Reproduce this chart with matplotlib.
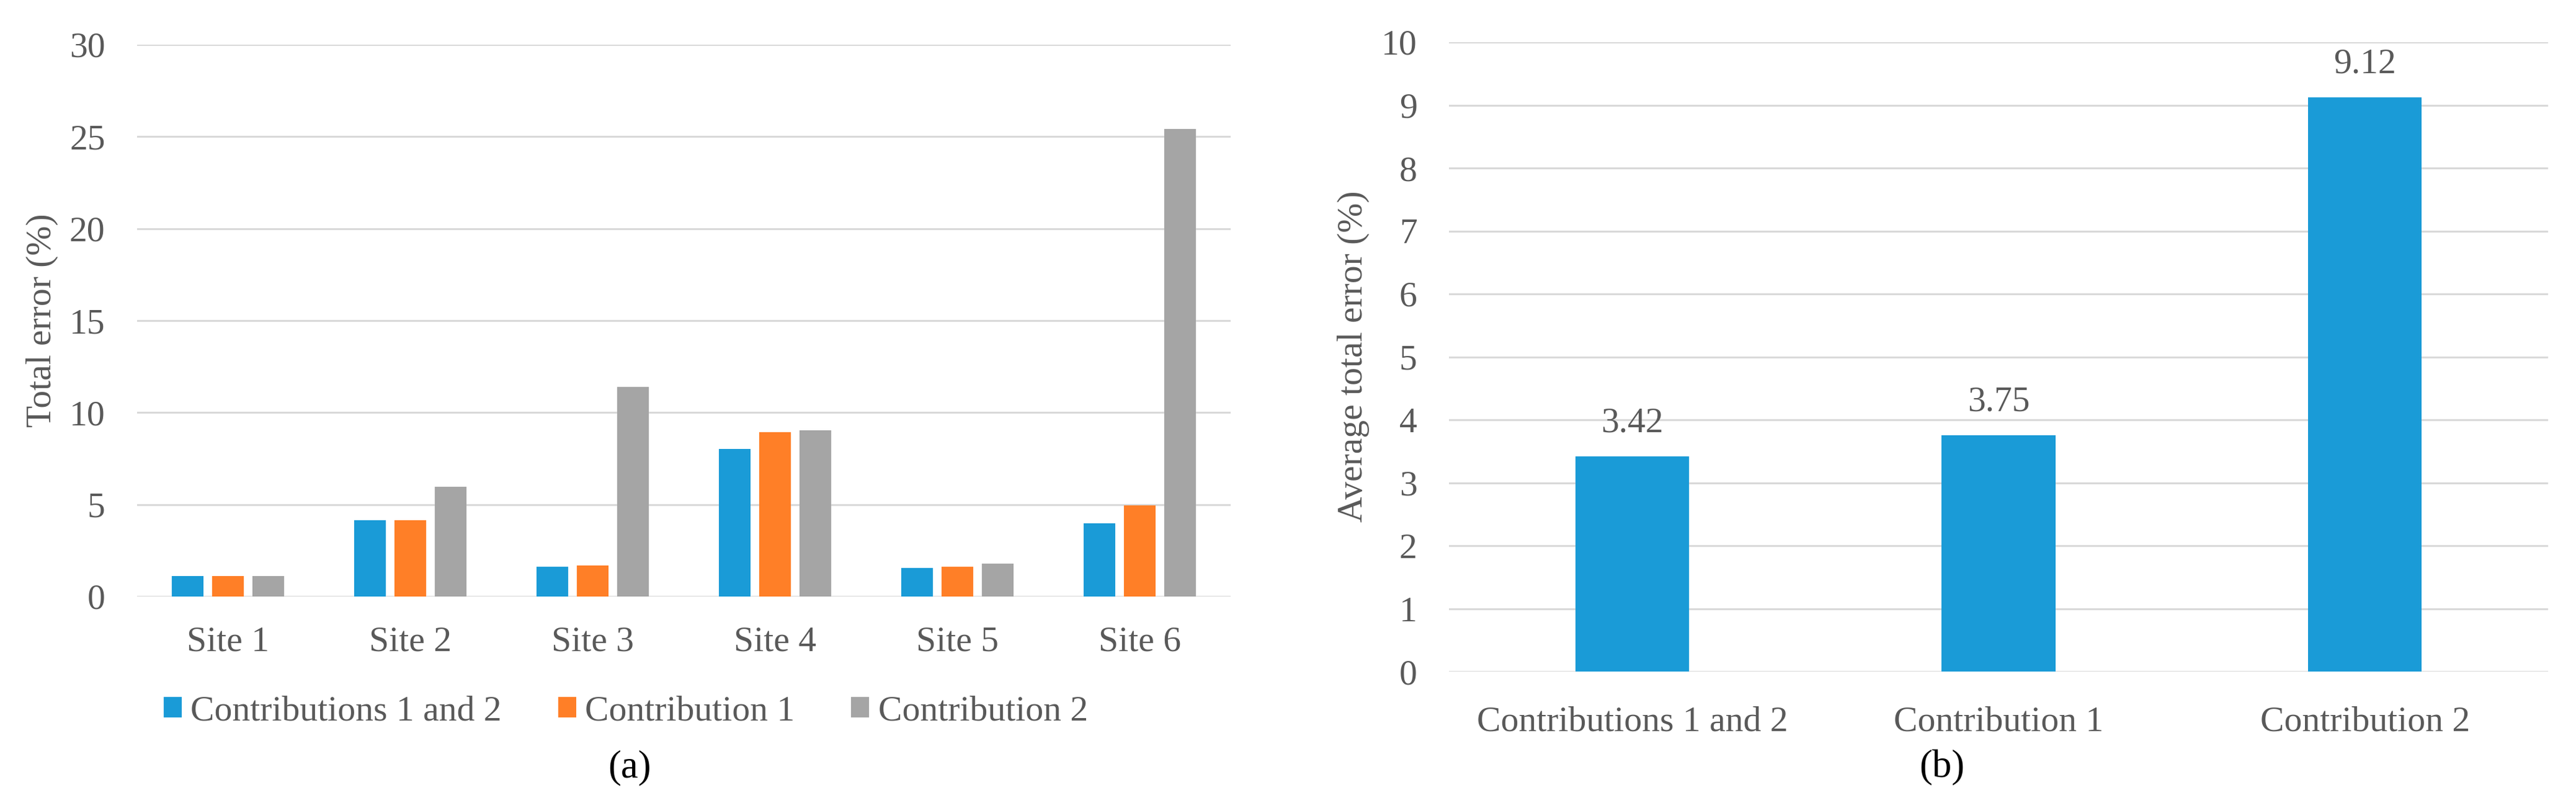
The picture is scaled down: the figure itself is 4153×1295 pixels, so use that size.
import matplotlib
matplotlib.use('Agg')
import matplotlib.pyplot as plt
import numpy as np

plt.rcParams['font.family'] = ['Liberation Serif', 'DejaVu Serif']

sites = ['Site 1', 'Site 2', 'Site 3', 'Site 4', 'Site 5', 'Site 6']
series_names = ['Contributions 1 and 2', 'Contribution 1', 'Contribution 2']
both = [1.1, 4.15, 1.62, 8.02, 1.55, 3.98]
contrib1 = [1.1, 4.15, 1.69, 8.93, 1.62, 4.95]
contrib2 = [1.1, 5.97, 11.39, 9.03, 1.79, 25.4]

avg_names = ['Contributions 1 and 2', 'Contribution 1', 'Contribution 2']
avg_error = [3.42, 3.75, 9.12]

colors = ['#1A9BD7', '#FF7F27', '#A5A5A5']
text_c = '#595959'
grid_c = '#D9D9D9'
fs = 41.5

W, H = 4153, 1295
fig = plt.figure(figsize=(W / 100, H / 100), dpi=100)


def px_axes(x0, y0, x1, y1):
    # pixel box (top-left origin) -> figure fraction axes
    return fig.add_axes((x0 / W, 1 - y1 / H, (x1 - x0) / W, (y1 - y0) / H))


def style(ax, ylim, step, xpad):
    ax.set_ylim(0, ylim)
    ax.set_yticks(np.arange(0, ylim + 0.01, step))
    ax.yaxis.grid(True, color=grid_c, lw=2.2)
    ax.set_axisbelow(True)
    for s in ax.spines.values():
        s.set_visible(False)
    ax.tick_params(axis='both', length=0, labelsize=fs, labelcolor=text_c)
    ax.tick_params(axis='y', pad=37)
    ax.tick_params(axis='x', pad=xpad)


# (a) per-site total error
ax1 = px_axes(221, 72, 1984, 962)
x = np.arange(len(sites))
bw, pitch = 0.1735, 0.221
for i, vals in enumerate([both, contrib1, contrib2]):
    ax1.bar(x + (i - 1) * pitch, vals, bw, color=colors[i], label=series_names[i])
ax1.set_xlim(-0.5, len(sites) - 0.5)
ax1.set_xticks(x, sites)
style(ax1, 30, 5, 34)
fig.text(68 / W, 1 - 517 / H, 'Total error (%)', rotation=90, ha='center', va='center',
         fontsize=fs, color=text_c)
ax1.legend(loc='center left', bbox_to_anchor=(264 / W, 1 - 1147 / H), bbox_transform=fig.transFigure,
           ncol=3, frameon=False, fontsize=fs, labelcolor=text_c, handlelength=0.5, handleheight=0.5,
           handletextpad=0.25, columnspacing=1.58, borderpad=0, borderaxespad=0)
fig.text(1015 / W, 1 - 1238 / H, '(a)', ha='center', va='center', fontsize=45, color='black')

# (b) average total error
ax2 = px_axes(2336, 68, 4108, 1083)
x2 = np.arange(len(avg_names))
bars = ax2.bar(x2, avg_error, 0.31, color=colors[0])
ax2.bar_label(bars, labels=[f'{v:.2f}' for v in avg_error], padding=20, fontsize=fs, color=text_c)
ax2.set_xlim(-0.5, len(avg_names) - 0.5)
ax2.set_xticks(x2, avg_names)
style(ax2, 10, 1, 40)
fig.text(2182 / W, 1 - 575 / H, 'Average total error (%)', rotation=90, ha='center', va='center',
         fontsize=fs, color=text_c)
fig.text(3131 / W, 1 - 1238 / H, '(b)', ha='center', va='center', fontsize=45, color='black')

fig.savefig('out.png', dpi=100, facecolor='white')
